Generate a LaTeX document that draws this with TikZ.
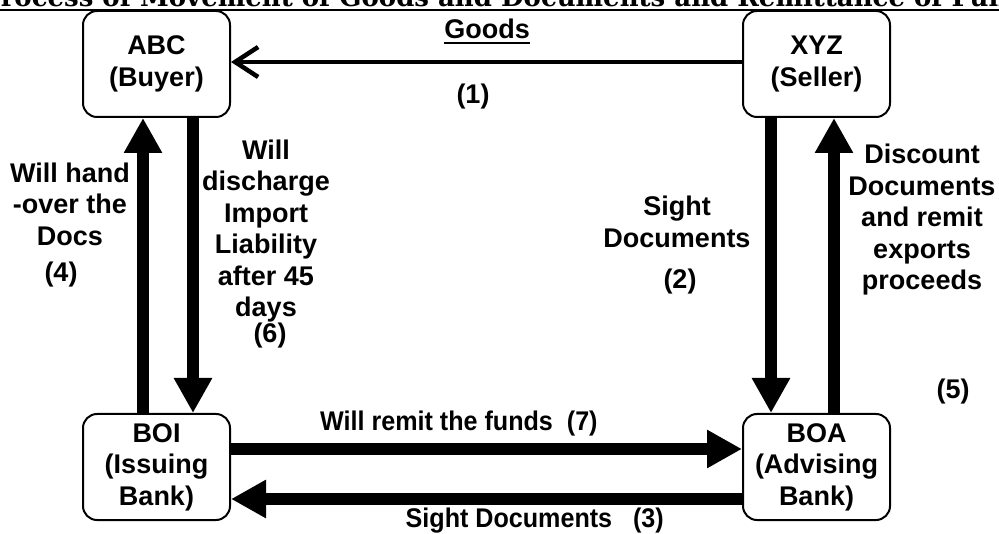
\documentclass[tikz,border=0pt]{standalone}
\usepackage{fontspec}
\setmainfont{Liberation Sans}
\newfontfamily\titlefont{DejaVu Serif}
\usetikzlibrary{arrows.meta}

\begin{document}
\begin{tikzpicture}[x=1pt,y=-1pt,
  every node/.style={font=\fontsize{27}{31.5}\selectfont\bfseries, inner sep=0pt},
  party/.style={draw, line width=2pt, rounded corners=14pt, minimum width=147pt,
                minimum height=106pt, align=center},
  lbl/.style={align=center},
  flow/.style={line width=12pt, -{Triangle[length=35pt,width=36pt]}},
  goodsflow/.style={line width=4.5pt, -{Straight Barb[length=23pt,width=30pt]}}]
\fill[white] (0,0) rectangle (999,534);
\useasboundingbox (0,0) rectangle (999,534);

% heading, running off the top of the page
\node[anchor=base west, font=\titlefont\fontsize{26}{30}\selectfont\bfseries] (title) at (-19,7)
  {Process of Movement of Goods and Documents and Remittance of Funds};
\draw[line width=1.8pt] ([yshift=-3pt]title.base west) -- ([yshift=-3pt]title.base east);

% parties
\node[party] (abc) at (156.5,64) {ABC\\(Buyer)};
\node[party] (xyz) at (816.5,64) {XYZ\\(Seller)};
\node[party] (boi) at (156.5,467) {BOI\\(Issuing\\Bank)};
\node[party] (boa) at (816.5,467) {BOA\\(Advising\\Bank)};

% flows
\draw[goodsflow] ([yshift=2pt]xyz.west) -- ([yshift=2pt]abc.east);
\draw[flow] ([xshift=-13.5pt]boi.north) -- ([xshift=-13.5pt]abc.south);
\draw[flow] ([xshift=36.5pt]abc.south) -- ([xshift=36.5pt]boi.north);
\draw[flow] ([xshift=-45.5pt]xyz.south) -- ([xshift=-45.5pt]boa.north);
\draw[flow] ([xshift=17.5pt]boa.north) -- ([xshift=17.5pt]xyz.south);
\draw[flow] ([yshift=18pt]boi.east) -- ([yshift=18pt]boa.west);
\draw[flow] ([yshift=-32pt]boa.west) -- ([yshift=-32pt]boi.east);

% labels
\node[anchor=base] (goods) at (487,39) {Goods};
\draw[line width=2pt] ([yshift=-4pt]goods.base west) -- ([yshift=-4pt]goods.base east);
\node (n1) at (473,97) {(1)};
\node[lbl] (hand) at (70,204) {Will hand\\-over the\\Docs};
\node (n4) at (61,275) {(4)};
\node[lbl] (discharge) at (266,231) {Will\\discharge\\Import\\Liability\\after 45\\days};
\node (n6) at (270,336) {(6)};
\node[lbl] (sight) at (677,222) {Sight\\Documents};
\node (n2) at (680,282) {(2)};
\node[lbl] (discount) at (922,220) {Discount\\Documents\\and remit\\exports\\proceeds};
\node (n5) at (953,392) {(5)};
\node[anchor=west] (remit) at (320,424) {\scalebox{0.93}[1]{Will remit the funds\ \ (7)}};
\node[anchor=east] (sight3) at (664,521) {\scalebox{0.93}[1]{Sight Documents\ \ \ (3)}};
\end{tikzpicture}
\end{document}
